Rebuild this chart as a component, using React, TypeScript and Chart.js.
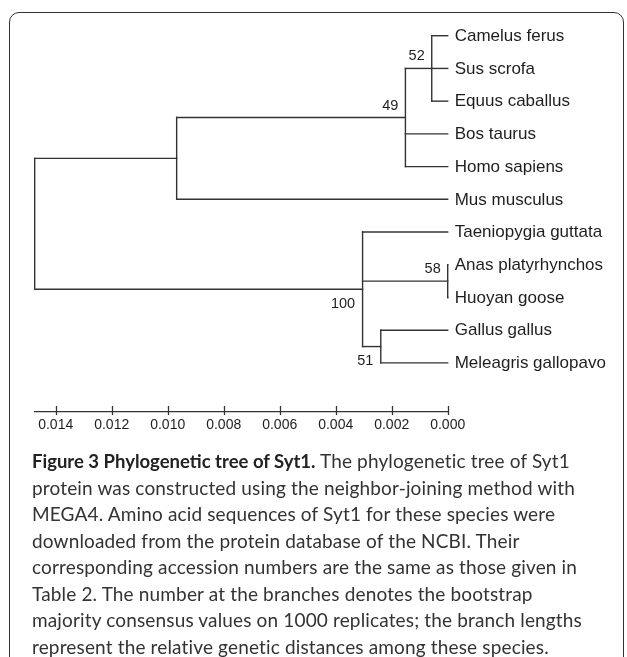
import React, { useEffect, useRef } from "react";
import { Chart, registerables } from "chart.js";

Chart.register(...registerables);

// ---- Data ----
const leafNames = [
  "Camelus ferus",
  "Sus scrofa",
  "Equus caballus",
  "Bos taurus",
  "Homo sapiens",
  "Mus musculus",
  "Taeniopygia guttata",
  "Anas platyrhynchos",
  "Huoyan goose",
  "Gallus gallus",
  "Meleagris gallopavo",
];
const leafDistances = [0, 0, 0, 0, 0, 0, 0, 0, 0, 0, 0];

// internal nodes in post-order (children before parents)
const nodeNames = ["n52", "n49", "nMam", "n58", "n51", "n100", "root"];
const nodeDistances = [0.00057, 0.00151, 0.00968, 0.0, 0.00239, 0.00304, 0.01475];
const nodeChildren = [
  ["Camelus ferus", "Sus scrofa", "Equus caballus"],
  ["n52", "Bos taurus", "Homo sapiens"],
  ["n49", "Mus musculus"],
  ["Anas platyrhynchos", "Huoyan goose"],
  ["Gallus gallus", "Meleagris gallopavo"],
  ["Taeniopygia guttata", "n58", "n51"],
  ["nMam", "n100"],
];
const bootstrapValues: (number | null)[] = [52, 49, null, 58, 51, 100, null];
const bootstrapSide = ["above", "above", "", "above", "below", "below", ""];

const axisTicks = [0.014, 0.012, 0.01, 0.008, 0.006, 0.004, 0.002, 0.0];

const captionBold = "Figure 3 Phylogenetic tree of Syt1.";
const captionLines = [
  " The phylogenetic tree of Syt1",
  "protein was constructed using the neighbor-joining method with",
  "MEGA4. Amino acid sequences of Syt1 for these species were",
  "downloaded from the protein database of the NCBI. Their",
  "corresponding accession numbers are the same as those given in",
  "Table 2. The number at the branches denotes the bootstrap",
  "majority consensus values on 1000 replicates; the branch lengths",
  "represent the relative genetic distances among these species.",
];

// ---- Styles ----
const LINE = "#333333";
const TEXT = "#1e1e1e";
const TREE_FONT = "Liberation Sans, Arial, sans-serif";

export default function App() {
  const ref = useRef<HTMLCanvasElement>(null);

  useEffect(() => {
    const canvas = ref.current;
    if (!canvas) return;

    const yPos: Record<string, number> = {};
    const xPos: Record<string, number> = {};
    leafNames.forEach((n, i) => {
      yPos[n] = i;
      xPos[n] = leafDistances[i];
    });
    nodeNames.forEach((n, i) => {
      const ch = nodeChildren[i];
      xPos[n] = nodeDistances[i];
      yPos[n] = (yPos[ch[0]] + yPos[ch[ch.length - 1]]) / 2;
    });

    const segments: { x: number; y: number }[][] = [];
    nodeNames.forEach((n, i) => {
      const ch = nodeChildren[i];
      segments.push([
        { x: xPos[n], y: yPos[ch[0]] },
        { x: xPos[n], y: yPos[ch[ch.length - 1]] },
      ]);
      ch.forEach((c) => {
        segments.push([
          { x: xPos[n], y: yPos[c] },
          { x: xPos[c], y: yPos[c] },
        ]);
      });
    });

    const datasets = segments.map((seg) => ({
      data: seg,
      showLine: true,
      borderColor: LINE,
      borderWidth: 1.4,
      borderCapStyle: "square" as const,
      pointRadius: 0,
      pointHoverRadius: 0,
      clip: false as const,
    }));

    const treeLabels = {
      id: "treeLabels",
      afterDraw(chart: any) {
        const { ctx } = chart;
        const x = chart.scales.x;
        const y = chart.scales.y;
        ctx.save();
        // axis tick marks
        ctx.strokeStyle = LINE;
        ctx.lineWidth = 1.3;
        const base = x.top;
        x.ticks.forEach((t: any) => {
          const px = Math.round(x.getPixelForValue(t.value)) + 0.5;
          ctx.beginPath();
          ctx.moveTo(px, base - 6);
          ctx.lineTo(px, base + 3);
          ctx.stroke();
        });
        // leaf labels
        ctx.fillStyle = TEXT;
        ctx.font = `17px ${TREE_FONT}`;
        ctx.textAlign = "left";
        ctx.textBaseline = "middle";
        leafNames.forEach((n, i) => {
          ctx.fillText(n, x.getPixelForValue(leafDistances[i]) + 7, y.getPixelForValue(yPos[n]) + 0.5);
        });
        // bootstrap values
        ctx.font = `14.5px ${TREE_FONT}`;
        ctx.textAlign = "right";
        nodeNames.forEach((n, i) => {
          const v = bootstrapValues[i];
          if (v == null) return;
          const px = x.getPixelForValue(xPos[n]);
          const py = y.getPixelForValue(yPos[n]);
          if (bootstrapSide[i] === "above") {
            ctx.fillText(String(v), px - 7, py - 12);
          } else {
            ctx.fillText(String(v), px - 7.5, py + 14.5);
          }
        });
        ctx.restore();
      },
    };

    const chart = new Chart(canvas, {
      type: "scatter",
      data: { datasets },
      options: {
        responsive: false,
        animation: false,
        events: [],
        layout: { padding: { left: 34.7, right: 179.3, top: 19.35, bottom: 0 } },
        plugins: { legend: { display: false }, tooltip: { enabled: false } },
        scales: {
          x: {
            type: "linear",
            min: 0,
            max: 0.01475,
            reverse: true,
            grid: { display: false, drawTicks: false },
            border: { display: true, color: LINE, width: 1.3 },
            afterBuildTicks: (scale: any) => {
              scale.ticks = axisTicks.map((v) => ({ value: v }));
            },
            afterFit: (scale: any) => {
              scale.height = 40;
            },
            ticks: {
              autoSkip: false,
              maxRotation: 0,
              padding: 5,
              color: TEXT,
              font: { family: TREE_FONT, size: 14 },
              callback: (v: any) => Number(v).toFixed(3),
            },
          },
          y: {
            type: "linear",
            display: false,
            min: -0.5,
            max: 11.5,
            reverse: true,
          },
        },
      },
      plugins: [treeLabels],
    });
    return () => chart.destroy();
  }, []);

  return (
    <div
      style={{
        position: "fixed",
        left: 0,
        top: 0,
        width: 627,
        height: 657,
        overflow: "hidden",
        background: "#fff",
      }}
    >
      <div
        style={{
          position: "absolute",
          left: 8.5,
          top: 12.3,
          width: 615,
          height: 720,
          boxSizing: "border-box",
          border: "1.5px solid #333",
          borderRadius: 10,
        }}
      />
      <canvas
        ref={ref}
        width={627}
        height={452}
        style={{ position: "absolute", left: 0, top: 0, width: 627, height: 452 }}
      />
      <div
        style={{
          position: "absolute",
          left: 32,
          top: 448,
          fontFamily: "Lato, sans-serif",
          fontSize: 19,
          letterSpacing: "0.15px",
          lineHeight: "26.5px",
          color: "#333",
          whiteSpace: "nowrap",
        }}
      >
        {captionLines.map((line, i) => (
          <div key={i}>
            {i === 0 ? (
              <b style={{ color: "#222", fontSize: 18.5, letterSpacing: "0px" }}>{captionBold}</b>
            ) : null}
            {line}
          </div>
        ))}
      </div>
    </div>
  );
}
